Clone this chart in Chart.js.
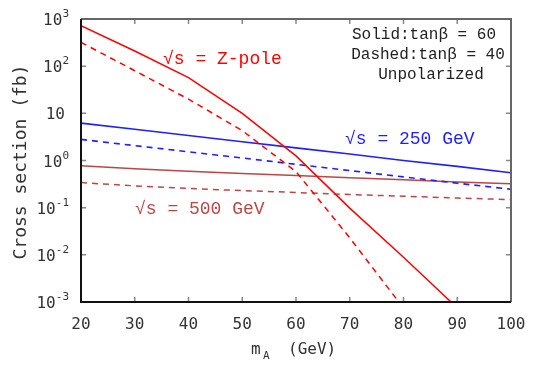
<!DOCTYPE html>
<html>
<head>
<meta charset="utf-8">
<script src="https://cdn.jsdelivr.net/npm/chart.js@4/dist/chart.umd.min.js"></script>
<style>
  body { margin: 0; background: #fff; }
</style>
</head>
<body>
<canvas id="xsecChart" width="545" height="382"></canvas>
<script>
// m_A values (GeV)
const massA = [20, 30, 40, 50, 60, 70, 80, 90, 100];

// cross sections in fb
const zPoleTan60 = [720, 210, 57, 10, 1.25, 0.098, 0.0089, 0.00075, null];
const zPoleTan40 = [320, 80, 20, 4.3, 0.58, 0.023, 0.00074, null, null];
const s250Tan60 = [6.2, 4.6, 3.4, 2.5, 1.85, 1.37, 1.0, 0.75, 0.55];
const s250Tan40 = [2.8, 2.07, 1.53, 1.13, 0.83, 0.61, 0.45, 0.33, 0.245];
const s500Tan60 = [0.77, 0.67, 0.59, 0.53, 0.48, 0.43, 0.39, 0.35, 0.32];
const s500Tan40 = [0.34, 0.29, 0.255, 0.23, 0.21, 0.19, 0.175, 0.16, 0.148];

const xTicks = [20, 30, 40, 50, 60, 70, 80, 90, 100];
const yTicks = [0.001, 0.01, 0.1, 1, 10, 100, 1000];
const yTickExp = ['-3', '-2', '-1', '0', '', '2', '3'];

const RED = '#ff0000';
const BLUE = '#1f1fff';
const BROWN = '#b84848';

function toPoints(values) {
    return massA.map((m, i) => ({ x: m, y: values[i] }));
}

function line(values, color, dashed, width) {
    return {
        data: toPoints(values),
        borderColor: color,
        borderWidth: width,
        borderDash: dashed ? [6, 5] : [],
        pointRadius: 0,
        tension: 0,
        fill: false,
        spanGaps: false
    };
}

// frame, inward ticks, y tick labels with exponents, titles and labels
const decorations = {
    id: 'decorations',
    afterDraw(chart) {
        const ctx = chart.ctx;
        const area = chart.chartArea;
        const xs = chart.scales.x;
        const ys = chart.scales.y;
        ctx.save();

        // inward tick marks
        ctx.strokeStyle = '#888';
        ctx.lineWidth = 1.5;
        xTicks.slice(1, -1).forEach(v => {
            const px = xs.getPixelForValue(v);
            ctx.beginPath();
            ctx.moveTo(px, area.bottom); ctx.lineTo(px, area.bottom - 5);
            ctx.moveTo(px, area.top); ctx.lineTo(px, area.top + 5);
            ctx.stroke();
        });
        yTicks.slice(1, -1).forEach(v => {
            const py = ys.getPixelForValue(v);
            ctx.beginPath();
            ctx.moveTo(area.left, py); ctx.lineTo(area.left + 5, py);
            ctx.moveTo(area.right, py); ctx.lineTo(area.right - 5, py);
            ctx.stroke();
        });

        // frame
        ctx.lineWidth = 2;
        ctx.strokeStyle = '#666';
        ctx.beginPath();
        ctx.moveTo(area.left, area.top); ctx.lineTo(area.right, area.top); ctx.lineTo(area.right, area.bottom);
        ctx.stroke();
        ctx.strokeStyle = '#111';
        ctx.beginPath();
        ctx.moveTo(area.left, area.top); ctx.lineTo(area.left, area.bottom); ctx.lineTo(area.right, area.bottom);
        ctx.stroke();

        // y tick labels: 10 with exponent
        ctx.fillStyle = '#333';
        ctx.textBaseline = 'alphabetic';
        yTicks.forEach((v, i) => {
            const py = ys.getPixelForValue(v);
            const exp = yTickExp[i];
            ctx.font = '11px "DejaVu Sans Mono"';
            const expW = exp ? ctx.measureText(exp).width : 0;
            const right = area.left - 12;
            ctx.textAlign = 'right';
            if (exp) ctx.fillText(exp, right, py - 2);
            ctx.font = '16px "DejaVu Sans Mono"';
            ctx.fillText('10', exp ? right - expW : right - 4, py + 6);
        });

        // axis titles
        ctx.fillStyle = '#333';
        ctx.font = '18px "DejaVu Sans Mono"';
        ctx.save();
        ctx.translate(26, 162);
        ctx.rotate(-Math.PI / 2);
        ctx.textAlign = 'center';
        ctx.fillText('Cross section (fb)', 0, 0);
        ctx.restore();

        ctx.textAlign = 'left';
        ctx.font = '16px "DejaVu Sans Mono"';
        ctx.fillText('m', 251, 354);
        ctx.font = '11px "DejaVu Sans Mono"';
        ctx.fillText('A', 263, 359);
        ctx.font = '16px "DejaVu Sans Mono"';
        ctx.fillText('(GeV)', 288, 354);

        // legend text
        ctx.fillStyle = '#222';
        ctx.font = '16px "Liberation Mono"';
        ctx.textAlign = 'center';
        ctx.fillText('Solid:tan\u03b2 = 60', 424, 39);
        ctx.fillText('Dashed:tan\u03b2 = 40', 428, 59);
        ctx.fillText('Unpolarized', 431, 79);

        // curve labels
        ctx.textAlign = 'left';
        ctx.font = '18px "Liberation Mono"';
        ctx.fillStyle = RED;
        ctx.fillText('\u221as = Z-pole', 163, 64);
        ctx.fillStyle = BLUE;
        ctx.fillText('\u221as = 250 GeV', 345, 144);
        ctx.fillStyle = BROWN;
        ctx.fillText('\u221as = 500 GeV', 135, 214);

        ctx.restore();
    }
};

const ctx = document.getElementById('xsecChart').getContext('2d');
new Chart(ctx, {
    type: 'line',
    data: {
        datasets: [
            line(zPoleTan60, RED, false, 1.5),
            line(zPoleTan40, RED, true, 1.5),
            line(s250Tan60, BLUE, false, 1.6),
            line(s250Tan40, BLUE, true, 1.6),
            line(s500Tan60, BROWN, false, 1.5),
            line(s500Tan40, BROWN, true, 1.5)
        ]
    },
    options: {
        responsive: false,
        animation: false,
        layout: { padding: { top: 19, right: 34, left: 0, bottom: 0 } },
        plugins: { legend: { display: false }, tooltip: { enabled: false } },
        scales: {
            x: {
                type: 'linear',
                min: 20,
                max: 100,
                afterBuildTicks: s => { s.ticks = xTicks.map(v => ({ value: v })); },
                afterFit: s => { s.height = 80; },
                grid: { display: false },
                border: { display: false },
                ticks: {
                    padding: 5,
                    color: '#333',
                    font: { family: 'DejaVu Sans Mono', size: 16 },
                    maxRotation: 0
                }
            },
            y: {
                type: 'logarithmic',
                min: 0.001,
                max: 1000,
                afterBuildTicks: s => { s.ticks = yTicks.map(v => ({ value: v })); },
                afterFit: s => { s.width = 81; },
                grid: { display: false },
                border: { display: false },
                ticks: { display: false }
            }
        }
    },
    plugins: [decorations]
});
</script>
</body>
</html>
